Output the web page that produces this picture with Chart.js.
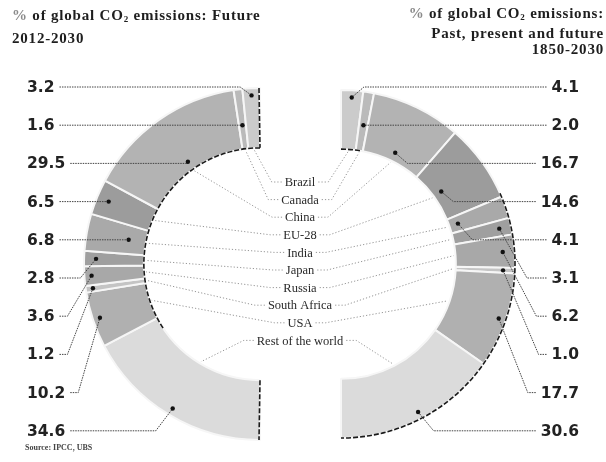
<!DOCTYPE html>
<html>
<head>
<meta charset="utf-8">
<script src="https://cdn.jsdelivr.net/npm/chart.js@4.4.1/dist/chart.umd.min.js"></script>
<style>
  html, body { margin: 0; padding: 0; background: #fff; }
  #wrap { position: relative; width: 606px; height: 462px; overflow: hidden; }
  .layer { position: absolute; left: 0; top: 0; width: 606px; height: 462px; }
  .title {
    position: absolute;
    font-family: "Liberation Serif", serif;
    font-weight: bold;
    font-size: 15px;
    letter-spacing: 0.8px;
    color: #1e1e1e;
    white-space: nowrap;
  }
  .title sub { font-size: 9px; vertical-align: -2px; }
  .title .pct { color: #8a8a8a; }
  #titleLeft { left: 12px; top: 6px; line-height: 19px; }
  #titleRight { right: 2px; top: 5px; line-height: 16px; text-align: right; }
  #source {
    position: absolute; left: 25px; top: 443px;
    font-family: "Liberation Serif", serif; font-size: 8px; font-weight: bold; color: #444;
  }
</style>
</head>
<body>
<div id="wrap">
  <div class="layer"><canvas id="futureChart"></canvas></div>
  <div class="layer"><canvas id="pastChart"></canvas></div>
  <div class="title" id="titleLeft"><span class="pct">%</span> of global CO<sub>2</sub> emissions: Future<br>2012-2030</div>
  <div class="title" id="titleRight"><span class="pct">%</span> of global CO<sub>2</sub> emissions:<br>Past, present and future<br>1850-2030</div>
  <div id="source">Source: IPCC, UBS</div>
</div>
<script>
// Shares of global CO2 emissions, in %
const countries = ['Brazil', 'Canada', 'China', 'EU-28', 'India', 'Japan', 'Russia', 'South Africa', 'USA', 'Rest of the world'];
const future2012to2030 = [3.2, 1.6, 29.5, 6.5, 6.8, 2.8, 3.6, 1.2, 10.2, 34.6];
const cumulative1850to2030 = [4.1, 2.0, 16.7, 14.6, 4.1, 3.1, 6.2, 1.0, 17.7, 30.6];

// Grey shade per country (same on both rings)
const shades = ['#cbcbcb', '#bababa', '#b3b3b3', '#9c9c9c', '#a9a9a9', '#9f9f9f', '#a8a8a8', '#c4c4c4', '#b0b0b0', '#dbdbdb'];

const LABEL_TOP = 87, LABEL_STEP = 38.2;
const NAME_TOP = 182, NAME_STEP = 17.6, NAME_X = 300;

function arcProps(chart, i, side) {
    const meta = chart.getDatasetMeta(0);
    const n = meta.data.length;
    // left ring is drawn bottom-up, so its data is reversed
    const k = side === 'left' ? n - 1 - i : i;
    return meta.data[k].getProps(['x', 'y', 'startAngle', 'endAngle', 'innerRadius', 'outerRadius']);
}

// value labels with leader lines, country names in the middle, dark scan edges
const callouts = {
    id: 'callouts',
    afterDatasetsDraw(chart, args, opts) {
        const ctx = chart.ctx;
        const side = opts.side;
        const values = opts.values;
        ctx.save();

        // dark edge along part of the ring
        const a0 = arcProps(chart, 0, side);
        ctx.strokeStyle = '#1a1a1a';
        ctx.lineWidth = 1.6;
        ctx.setLineDash([5, 2]);
        ctx.beginPath();
        if (side === 'left') {
            ctx.arc(a0.x, a0.y, a0.innerRadius, -Math.PI / 2, 146 * Math.PI / 180, true);
            ctx.moveTo(a0.x - 1, a0.y - a0.outerRadius);
            ctx.lineTo(a0.x, a0.y - a0.innerRadius);
            ctx.moveTo(a0.x, a0.y + a0.innerRadius);
            ctx.lineTo(a0.x - 1, a0.y + a0.outerRadius);
        } else {
            ctx.arc(a0.x, a0.y, a0.outerRadius, -24 * Math.PI / 180, Math.PI / 2, false);
            ctx.moveTo(a0.x, a0.y - a0.innerRadius);
            ctx.arc(a0.x, a0.y, a0.innerRadius, -Math.PI / 2, -80 * Math.PI / 180, false);
        }
        ctx.stroke();

        for (let i = 0; i < values.length; i++) {
            const p = arcProps(chart, i, side);
            const mid = (p.startAngle + p.endAngle) / 2;
            const band = p.outerRadius - p.innerRadius;
            const ly = LABEL_TOP + i * LABEL_STEP;

            // slide the dot along the middle ray so the leader stays level where it can
            let r = p.innerRadius + 0.8 * band;
            const s = Math.sin(mid);
            if (Math.abs(s) > 0.05) {
                const rr = (ly - p.y) / s;
                if (rr > 0) {
                    r = Math.min(p.innerRadius + 0.88 * band, Math.max(p.innerRadius + 0.15 * band, rr));
                }
            }
            const dx = p.x + Math.cos(mid) * r;
            const dy = p.y + Math.sin(mid) * r;
            const text = values[i].toFixed(1);

            ctx.font = 'bold 15.5px "DejaVu Sans"';
            ctx.textBaseline = 'middle';
            ctx.fillStyle = '#222';
            const w = ctx.measureText(text).width;
            const rise = Math.abs(dy - ly);
            let sx, ex;
            if (side === 'left') {
                ctx.textAlign = 'left';
                ctx.fillText(text, 27, ly + 1);
                sx = 27 + w + 5;
                ex = rise < 2 ? dx : Math.min(dx, Math.max(sx + 8, dx - rise * 0.4 - 8));
            } else {
                ctx.textAlign = 'right';
                ctx.fillText(text, 579, ly + 1);
                sx = 579 - w - 5;
                ex = rise < 2 ? dx : Math.max(dx, Math.min(sx - 8, dx + rise * 0.4 + 8));
            }
            ctx.strokeStyle = '#444';
            ctx.lineWidth = 1;
            ctx.setLineDash([1.5, 1]);
            ctx.beginPath();
            ctx.moveTo(sx, ly);
            ctx.lineTo(ex, ly);
            ctx.lineTo(dx, dy);
            ctx.stroke();
            ctx.setLineDash([]);
            ctx.fillStyle = '#111';
            ctx.beginPath();
            ctx.arc(dx, dy, 2.2, 0, Math.PI * 2);
            ctx.fill();

            // country name leader to the inner edge of the ring
            ctx.font = '12.5px "Liberation Serif"';
            const nw = ctx.measureText(countries[i]).width;
            const ny = NAME_TOP + i * NAME_STEP;
            const ir = p.innerRadius - 2;
            const tx = p.x + Math.cos(mid) * ir;
            const ty = p.y + Math.sin(mid) * ir;
            const nx = side === 'left' ? NAME_X - nw / 2 - 3 : NAME_X + nw / 2 + 3;
            const kx = side === 'left' ? nx - 10 : nx + 10;
            ctx.strokeStyle = '#8a8a8a';
            ctx.lineWidth = 0.9;
            ctx.setLineDash([1.2, 2]);
            ctx.beginPath();
            ctx.moveTo(nx, ny);
            ctx.lineTo(kx, ny);
            ctx.lineTo(tx, ty);
            ctx.stroke();

            if (opts.drawNames) {
                ctx.setLineDash([]);
                ctx.textAlign = 'center';
                ctx.fillStyle = '#2a2a2a';
                ctx.fillText(countries[i], NAME_X, ny + 1);
            }
        }
        ctx.restore();
    }
};

function halfRing(canvasId, values, colors, side, padding, drawNames) {
    return new Chart(document.getElementById(canvasId), {
        type: 'doughnut',
        data: {
            labels: side === 'left' ? countries.slice().reverse() : countries,
            datasets: [{
                data: side === 'left' ? values.slice().reverse() : values,
                backgroundColor: side === 'left' ? colors.slice().reverse() : colors,
                borderColor: '#f6f6f6',
                borderWidth: 2
            }]
        },
        options: {
            responsive: true,
            maintainAspectRatio: false,
            animation: false,
            rotation: side === 'left' ? 180 : 0,
            circumference: 180,
            cutout: '66%',
            layout: { padding: padding },
            plugins: {
                legend: { display: false },
                tooltip: { enabled: false },
                callouts: { side: side, values: values, drawNames: drawNames }
            }
        },
        plugins: [callouts]
    });
}

halfRing('futureChart', future2012to2030, shades, 'left',
    { left: 83, right: 345, top: 86, bottom: 20 }, false);
halfRing('pastChart', cumulative1850to2030, shades, 'right',
    { left: 340, right: 90, top: 88, bottom: 22 }, true);
</script>
</body>
</html>
